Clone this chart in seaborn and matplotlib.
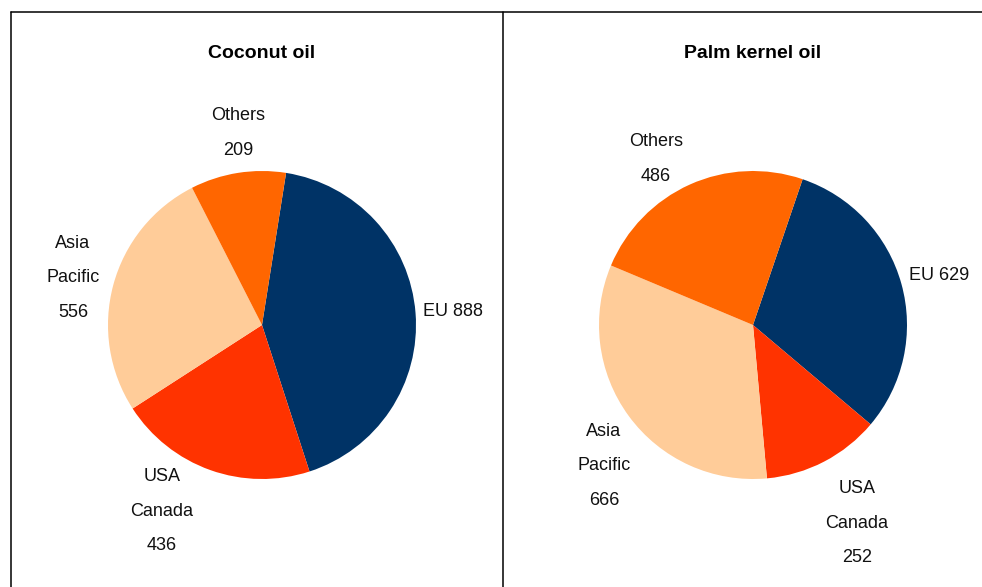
import matplotlib
matplotlib.use("Agg")
import matplotlib.pyplot as plt
import seaborn as sns
from matplotlib import font_manager
from matplotlib.lines import Line2D

sns.set_theme(style="white")

names = {f.name for f in font_manager.fontManager.ttflist}
NARROW = "Liberation Sans Narrow" if "Liberation Sans Narrow" in names else "Liberation Sans"
LBL_SIZE = 14 if NARROW == "Liberation Sans Narrow" else 13
plt.rcParams['font.family'] = ['Liberation Sans', 'DejaVu Sans']

regions = ["EU", "USA Canada", "Asia Pacific", "Others"]
colors = ["#003366", "#FF3300", "#FFCC99", "#FF6600"]
coconut_values = [888, 436, 556, 209]
palm_values = [629, 252, 666, 486]
titles = ["Coconut oil", "Palm kernel oil"]

W, H = 982, 587
fig = plt.figure(figsize=(W / 100, H / 100), dpi=100)
fig.patch.set_facecolor("white")

R = 154.0

def add_pie(cx, cy, values, startangle, title, label_specs):
    ax = fig.add_axes([(cx - R) / W, (H - cy - R) / H, 2 * R / W, 2 * R / H])
    ax.pie(values, colors=colors, startangle=startangle, counterclock=False,
           radius=1.0, wedgeprops=dict(linewidth=0))
    ax.set_xlim(-1, 1)
    ax.set_ylim(-1, 1)
    ax.set_axis_off()
    for txt, (px, py) in label_specs:
        ax.text((px - cx) / R, (cy - py) / R, txt, ha="center", va="center",
                fontsize=LBL_SIZE, family=[NARROW, 'DejaVu Sans'], color="#111111",
                linespacing=2.34, clip_on=False)
    ax.text(0, (cy - 53) / R, title, ha="center", va="center", fontsize=14,
            fontweight="bold", color="black", clip_on=False)
    return ax

v = coconut_values
add_pie(262, 325, v, 81.0, titles[0], [
    (f"Others\n{v[3]}", (238, 133)),
    (f"Asia\nPacific\n{v[2]}", (73, 278)),
    (f"EU {v[0]}", (453, 311)),
    (f"USA\nCanada\n{v[1]}", (162, 511)),
])
v = palm_values
add_pie(753, 325, v, 71.2, titles[1], [
    (f"Others\n{v[3]}", (656, 159)),
    (f"EU {v[0]}", (939, 275)),
    (f"Asia\nPacific\n{v[2]}", (604, 466)),
    (f"USA\nCanada\n{v[1]}", (857, 523)),
])

# frame lines
def fx(x):
    return x / W

def fy(y):
    return 1 - y / H

for xs, ys in [((11, W), (12, 12)), ((11, 11), (12, H)), ((503, 503), (12, H))]:
    fig.add_artist(Line2D([fx(xs[0]), fx(xs[1])], [fy(ys[0]), fy(ys[1])],
                          color="black", linewidth=1.1, transform=fig.transFigure))

fig.savefig("out.png", dpi=100, facecolor="white")
